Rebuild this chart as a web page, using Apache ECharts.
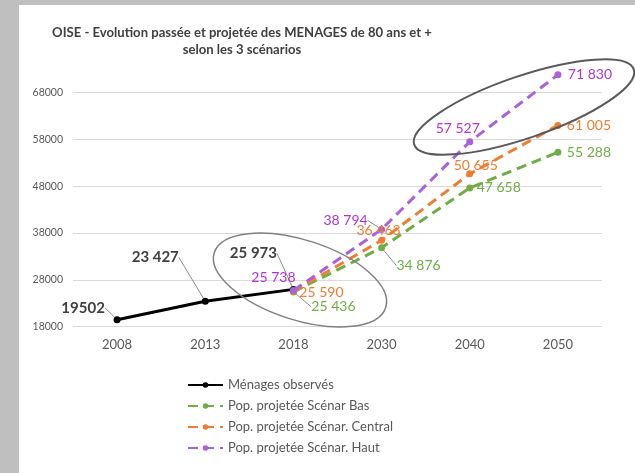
<!DOCTYPE html>
<html lang="fr">
<head>
    <meta charset="UTF-8">
    <title>OISE - Ménages 80 ans et +</title>
    <style>
        body {
            margin: 0;
            background: #bfbfbf;
        }
        #chart {
            position: absolute;
            left: 19px;
            top: 5px;
            width: 616px;
            height: 468px;
            background: #fff;
        }
    </style>
</head>
<body>
    <div id="chart"></div>
    <script src="https://cdn.jsdelivr.net/npm/echarts@6/dist/echarts.min.js"></script>
    <script>
        const years = ['2008', '2013', '2018', '2030', '2040', '2050'];
        const observes = [19502, 23427, 25973, null, null, null];
        const scenBas = [null, null, 25436, 34876, 47658, 55288];
        const scenCentral = [null, null, 25590, 36463, 50655, 61005];
        const scenHaut = [null, null, 25738, 38794, 57527, 71830];
        const yTicks = [18000, 28000, 38000, 48000, 58000, 68000];

        // label placement (dx, dy from the point) + leader line flag
        const labelPos = {
            obs: [[-34, -12, 1], [-50, -44, 1], [-40, -36, 1]],
            bas: [null, null, [40, 15, 1], [37, 18, 1], [29, 0, 0], [31, 0, 0]],
            central: [null, null, [28, 1, 0], [-3, -10, 0], [6, -8, 0], [31, 0, 0]],
            haut: [null, null, [-20, -13, 0], [-36, -9, 1], [-12, -13, 0], [32, 0, 0]]
        };

        const fmt = v => String(v).replace(/\B(?=(\d{3})+(?!\d))/g, ' ');
        const font = 'Lato, Open Sans, sans-serif';

        function makeData(values, pos) {
            return values.map((v, i) => {
                if (v == null) return null;
                const p = pos[i];
                return {
                    value: v,
                    labelLine: { show: !!p[2] }
                };
            });
        }

        function layoutFor(pos) {
            return params => {
                const p = pos[params.dataIndex];
                if (!p) return {};
                return { dx: p[0], dy: p[1] };
            };
        }

        function projSeries(name, values, pos, lineColor, textColor) {
            return {
                name: name,
                type: 'line',
                data: makeData(values, pos),
                clip: false,
                symbol: 'circle',
                symbolSize: 7,
                z: 3,
                lineStyle: { color: lineColor, width: 3, type: [10, 6] },
                itemStyle: { color: lineColor },
                label: {
                    show: true,
                    position: 'inside',
                    align: 'center',
                    verticalAlign: 'middle',
                    color: textColor,
                    fontSize: 14,
                    fontFamily: font,
                    formatter: p => fmt(p.value)
                },
                labelLine: { lineStyle: { color: '#8c8c8c', width: 1 } },
                labelLayout: layoutFor(pos)
            };
        }

        const obsData = makeData(observes.slice(0, 3), labelPos.obs);
        obsData[0].label = { formatter: '{c}' };

        const chart = echarts.init(document.getElementById('chart'));
        chart.setOption({
            animation: false,
            title: {
                text: 'OISE - Evolution passée et projetée des MENAGES de 80 ans et +\nselon les 3 scénarios',
                left: 218,
                top: 14,
                textAlign: 'center',
                textStyle: {
                    fontFamily: font,
                    fontSize: 13.1,
                    fontWeight: 'bold',
                    color: '#404040',
                    lineHeight: 17
                }
            },
            legend: {
                orient: 'vertical',
                left: 163,
                top: 367,
                height: 100,
                itemWidth: 35,
                itemHeight: 7,
                itemGap: 5,
                textStyle: { fontFamily: font, fontSize: 13, color: '#595959', lineHeight: 16 },
                data: ['Ménages observés', 'Pop. projetée Scénar Bas', 'Pop. projetée Scénar. Central', 'Pop. projetée Scénar. Haut']
            },
            grid: { left: 54, right: 33, top: 87.7, bottom: 146.3 },
            xAxis: {
                type: 'category',
                data: years,
                axisLine: { show: false },
                axisTick: { show: false },
                axisLabel: { color: '#595959', fontSize: 13, fontFamily: font, margin: 12 }
            },
            yAxis: {
                type: 'value',
                min: yTicks[0],
                max: yTicks[yTicks.length - 1],
                interval: 10000,
                axisLine: { show: false },
                axisTick: { show: false },
                axisLabel: { color: '#595959', fontSize: 10.5, fontFamily: font, margin: 10, formatter: v => String(v) },
                splitLine: { lineStyle: { color: '#d9d9d9', width: 1 } }
            },
            graphic: [
                {
                    type: 'ellipse',
                    x: 281, y: 275,
                    rotation: -0.31,
                    shape: { cx: 0, cy: 0, rx: 90, ry: 40 },
                    style: { fill: 'none', stroke: '#808080', lineWidth: 1.5 },
                    z: 10
                },
                {
                    type: 'ellipse',
                    x: 505, y: 102,
                    rotation: 0.33,
                    shape: { cx: 0, cy: 0, rx: 116, ry: 31 },
                    style: { fill: 'none', stroke: '#595959', lineWidth: 2 },
                    z: 10
                }
            ],
            series: [
                {
                    name: 'Ménages observés',
                    type: 'line',
                    data: obsData,
                    symbol: 'circle',
                    symbolSize: 7,
                    z: 2,
                    lineStyle: { color: '#000', width: 3 },
                    itemStyle: { color: '#000' },
                    label: {
                        show: true,
                        position: 'inside',
                        align: 'center',
                        verticalAlign: 'middle',
                        color: '#404040',
                        fontSize: 15,
                        fontWeight: 'bold',
                        fontFamily: font,
                        formatter: p => fmt(p.value)
                    },
                    labelLine: { lineStyle: { color: '#8c8c8c', width: 1 } },
                    labelLayout: layoutFor(labelPos.obs)
                },
                projSeries('Pop. projetée Scénar Bas', scenBas, labelPos.bas, '#70ad47', '#70ad47'),
                projSeries('Pop. projetée Scénar. Central', scenCentral, labelPos.central, '#ed7d31', '#ed7d31'),
                projSeries('Pop. projetée Scénar. Haut', scenHaut, labelPos.haut, '#a862dc', '#b034d6')
            ]
        });
    </script>
</body>
</html>
